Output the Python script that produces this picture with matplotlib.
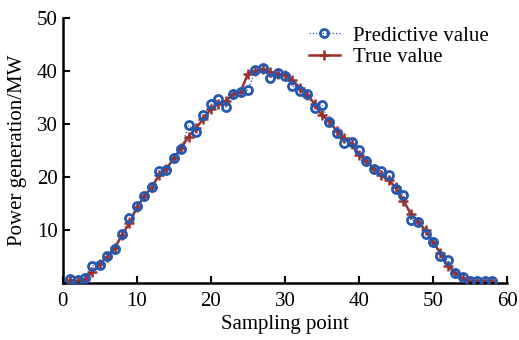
import matplotlib
matplotlib.use("Agg")
import matplotlib.pyplot as plt
import numpy as np

# sampling points and series
sample = np.arange(1, 59)
predicted = [0.65, 0.5, 0.8, 3.2, 3.4, 5.0, 6.3, 9.2, 12.2, 14.4,
             16.3, 18.0, 21.1, 21.3, 23.5, 25.3, 29.7, 28.4, 31.7, 33.7,
             34.6, 33.1, 35.7, 36.0, 36.4, 40.1, 40.6, 38.7, 39.7, 39.0,
             37.2, 36.2, 35.6, 33.0, 33.5, 30.3, 28.3, 26.4, 26.5, 25.0,
             22.9, 21.4, 21.1, 20.3, 17.7, 16.6, 11.8, 11.5, 9.2, 7.7,
             5.1, 4.2, 1.8, 1.0, 0.3, 0.3, 0.3, 0.3]
true_val = [0.5, 0.3, 0.6, 2.0, 3.5, 4.9, 6.5, 9.0, 11.2, 14.2,
            16.3, 18.0, 20.3, 21.5, 23.5, 25.5, 27.6, 29.2, 31.0, 32.8,
            33.8, 34.3, 35.6, 36.0, 39.5, 40.0, 40.3, 39.8, 39.5, 39.2,
            38.3, 36.8, 35.5, 33.8, 31.6, 30.5, 28.6, 27.3, 26.2, 24.2,
            23.0, 21.5, 20.3, 19.3, 18.0, 15.5, 13.0, 11.4, 9.9, 7.7,
            5.5, 3.2, 1.8, 0.8, 0.3, 0.2, 0.2, 0.2]

xticks = [0, 10, 20, 30, 40, 50, 60]
yticks = [0, 10, 20, 30, 40, 50]

plt.rcParams['font.family'] = ['Liberation Serif', 'DejaVu Serif']

fig = plt.figure(figsize=(5.19, 3.40), dpi=100)
ax = fig.add_axes([0.121, 0.169, 0.856, 0.778])

blue = '#2458b3'
red = '#9e2f26'

h_true, = ax.plot(sample, true_val, '-', color=red, lw=1.8, marker='+',
                  ms=7, mew=1.8, zorder=2)
h_pred, = ax.plot(sample, predicted, ':', color=blue, lw=0.9, marker='o',
                  ms=5.8, mew=2.0, mfc='none', mec=blue, zorder=3)

ax.set_xlim(0, 60)
ax.set_ylim(0, 50)
ax.set_xticks(xticks)
ax.set_yticks(yticks)
ax.set_yticklabels([''] + [str(t) for t in yticks[1:]])
ax.tick_params(direction='in', length=5, width=1.5, labelsize=15)
ax.tick_params(axis='x', pad=7)
for s in ['top', 'right']:
    ax.spines[s].set_visible(False)
for s in ['left', 'bottom']:
    ax.spines[s].set_linewidth(1.8)

ax.set_xlabel('Sampling point', fontsize=15, labelpad=3)
ax.set_ylabel('Power generation/MW', fontsize=15, labelpad=7)

ax.legend([h_pred, h_true], ['Predictive value', 'True value'],
          loc='upper right', bbox_to_anchor=(1.0, 1.04), frameon=False,
          fontsize=15, handlelength=1.5, handletextpad=0.6, labelspacing=0.1)

fig.savefig('out.png', dpi=100)
